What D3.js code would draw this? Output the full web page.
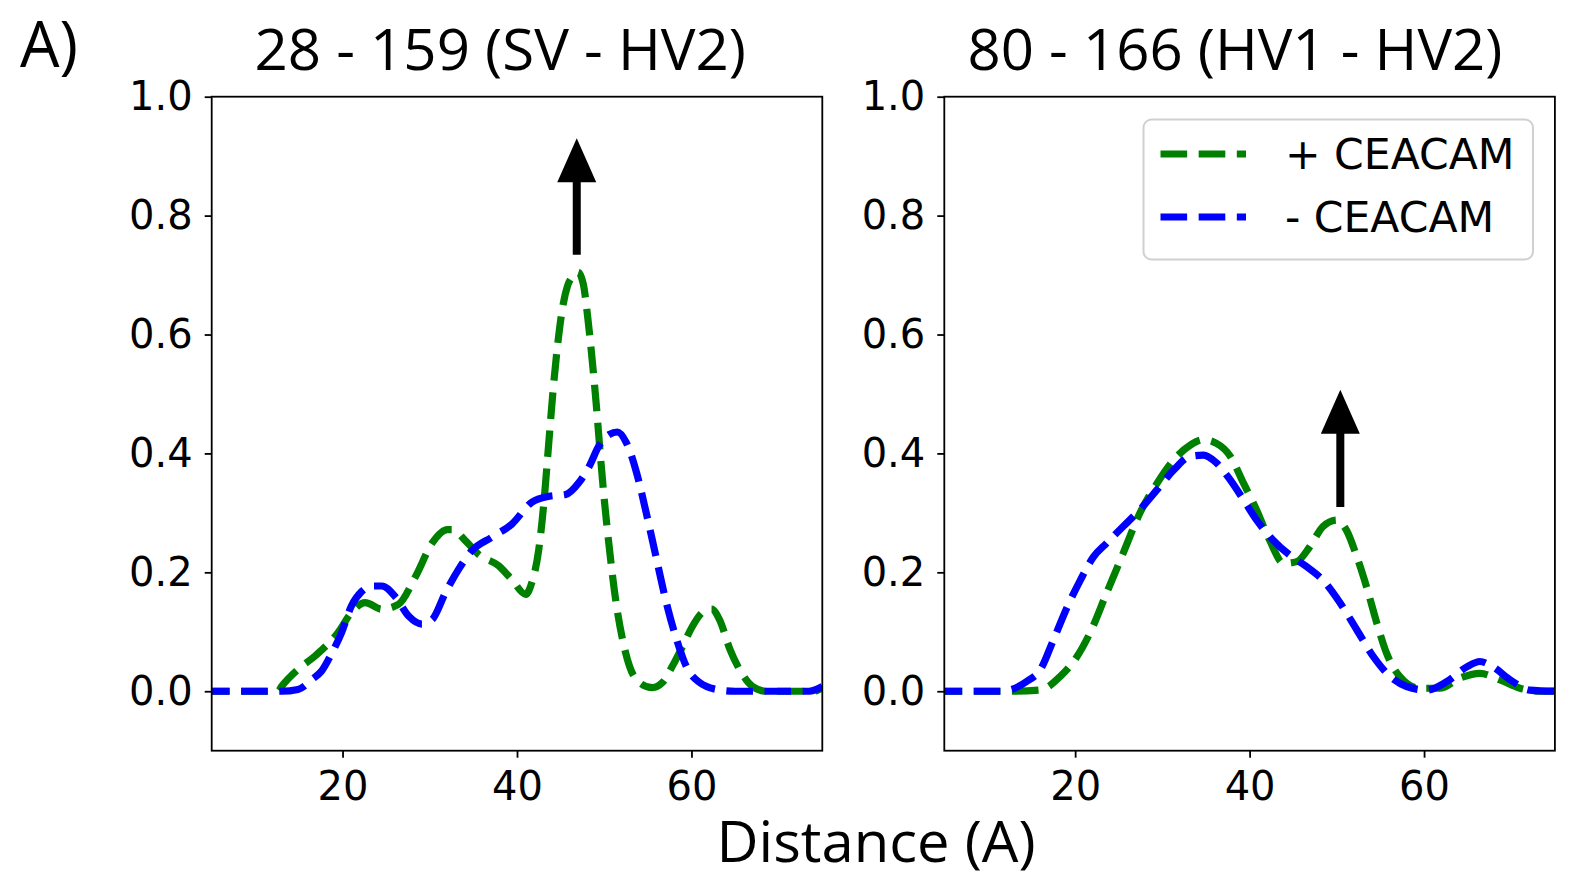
<!DOCTYPE html>
<html>
<head>
<meta charset="utf-8">
<script src="https://cdn.jsdelivr.net/npm/d3@7"></script>
<style>
  body { margin: 0; background: #fff; }
  svg { display: block; }
</style>
</head>
<body>
<script>
// distance distributions, [distance (A), density]
var leftPlus = [[4,0],[10,0],[12.6,0],[13,0.008],[14.9,0.037],[16.9,0.06],[19.5,0.099],[21,0.132],[22.6,0.149],
  [24.5,0.138],[26.4,0.146],[28.4,0.194],[30.3,0.25],[32,0.272],[32.6,0.272],[34.1,0.253],[35.6,0.23],[37.9,0.211],
  [39.4,0.188],[41,0.163],[41.7,0.183],[42.5,0.239],[43.1,0.32],[43.6,0.41],[44.1,0.5],[44.6,0.575],[45.2,0.643],
  [45.8,0.682],[46.4,0.698],[47.0,0.705],[47.6,0.685],[48.1,0.63],[48.6,0.56],[49.1,0.48],[49.5,0.407],[50,0.323],
  [50.6,0.239],[51.3,0.155],[52.1,0.087],[52.9,0.042],[54,0.015],[55.5,0.006],[56.7,0.015],[57.8,0.042],[59,0.076],
  [60.1,0.109],[61.3,0.133],[62.3,0.138],[63.2,0.121],[64.4,0.071],[65.5,0.037],[67,0.008],[68.6,0],[74,0],[75,0.006]];

var leftMinus = [[4,0],[13,0],[14.9,0.003],[16.5,0.02],[17.6,0.034],[18.7,0.062],[19.9,0.099],[21,0.143],[22.2,0.168],
  [23.3,0.177],[24.5,0.177],[26.1,0.158],[27.6,0.126],[29.1,0.113],[30.3,0.121],[31.8,0.166],[33.3,0.205],[34.8,0.236],
  [37.1,0.259],[39.4,0.281],[41.7,0.318],[43.7,0.328],[45.6,0.331],[47.1,0.351],[48.3,0.379],[49.4,0.413],[50.6,0.432],
  [51.5,0.436],[52.5,0.419],[53.7,0.368],[54.8,0.301],[56,0.222],[57.1,0.15],[58.3,0.087],[59.4,0.042],[60.9,0.015],
  [62.9,0.003],[65,0],[73.5,0],[75,0.008]];

var rightPlus = [[4,0],[13,0],[16,0.002],[18.3,0.025],[20.2,0.058],[21.7,0.098],[23.6,0.165],[25.5,0.232],[27.4,0.299],
  [29.4,0.35],[31.3,0.389],[33.2,0.414],[34.7,0.423],[36.2,0.417],[37.8,0.395],[39.3,0.35],[40.8,0.305],[42.3,0.254],
  [43.9,0.215],[45.4,0.218],[46.9,0.243],[48.4,0.277],[50,0.288],[51.1,0.271],[52.3,0.226],[53.4,0.176],[54.6,0.114],
  [55.7,0.064],[57.2,0.025],[59.5,0.005],[61.8,0.005],[64.1,0.022],[66.4,0.03],[68.7,0.019],[71,0.005],[73.4,0],[75,0]];

var rightMinus = [[4,0],[11.5,0],[12.7,0.003],[14.5,0.017],[16,0.036],[17.5,0.086],[19.1,0.142],[20.6,0.187],[22.1,0.226],
  [23.6,0.249],[25.5,0.277],[27.4,0.305],[29.4,0.339],[31.3,0.372],[33.2,0.395],[34.7,0.397],[36.2,0.384],[37.8,0.355],
  [39.3,0.322],[40.8,0.288],[42.7,0.254],[44.6,0.229],[46.5,0.21],[48.4,0.187],[50.4,0.148],[52.3,0.103],[54.2,0.058],
  [56.1,0.025],[58,0.008],[60.3,0.002],[62.6,0.016],[64.9,0.041],[66.4,0.05],[67.9,0.041],[69.9,0.019],[72.1,0.002],[75,0]];

var panelTitles = ["28 - 159 (SV - HV2)", "80 - 166 (HV1 - HV2)"];
var seriesNames = ["+ CEACAM", "- CEACAM"];
var seriesColors = ["#008000", "#0000ff"];
var xTicks = [20, 40, 60];
var yTicks = [0.0, 0.2, 0.4, 0.6, 0.8, 1.0];
// arrows: [x, y start, y tip]
var arrowLeft = [46.85, 0.734, 0.93];
var arrowRight = [50.4, 0.31, 0.507];

var width = 1577, height = 881;
var lw = 7.2;
var dash = (3.7 * lw) + "," + (1.6 * lw);

var svg = d3.select("body").append("svg")
  .attr("width", width)
  .attr("height", height);

var panels = [
  {left: 211.7, title: panelTitles[0], tx: 254.5, tlen: 491.5, series: [leftPlus, leftMinus], arrow: arrowLeft, legend: false},
  {left: 944.3, title: panelTitles[1], tx: 967.5, tlen: 535, series: [rightPlus, rightMinus], arrow: arrowRight, legend: true}
];
var pw = 610.6, plotTop = 96.7, plotBottom = 750.7;

panels.forEach(function(p, i) {
  var x = d3.scaleLinear().domain([5, 75]).range([p.left, p.left + pw]);
  var y = d3.scaleLinear().domain([-0.1, 1.0]).range([plotBottom, plotTop]);

  svg.append("clipPath").attr("id", "clip" + i)
    .append("rect").attr("x", p.left).attr("y", plotTop).attr("width", pw).attr("height", plotBottom - plotTop);

  var line = d3.line()
    .x(function(d) { return x(d[0]); })
    .y(function(d) { return y(d[1]); })
    .curve(d3.curveMonotoneX);

  var g = svg.append("g").attr("clip-path", "url(#clip" + i + ")");
  p.series.forEach(function(s, k) {
    g.append("path")
      .attr("d", line(s))
      .attr("fill", "none")
      .attr("stroke", seriesColors[k])
      .attr("stroke-width", lw)
      .attr("stroke-dasharray", dash);
  });

  // arrow
  var a = p.arrow, ax = x(a[0]), y0 = y(a[1]), tip = y(a[2]);
  var headLen = 44, headW = 19.5, shaftW = 4;
  svg.append("path")
    .attr("d", "M" + (ax - shaftW) + "," + y0 + "L" + (ax - shaftW) + "," + (tip + headLen) +
      "L" + (ax - headW) + "," + (tip + headLen) + "L" + ax + "," + tip +
      "L" + (ax + headW) + "," + (tip + headLen) + "L" + (ax + shaftW) + "," + (tip + headLen) +
      "L" + (ax + shaftW) + "," + y0 + "Z")
    .attr("fill", "#000");

  // frame
  svg.append("rect")
    .attr("x", p.left).attr("y", plotTop).attr("width", pw).attr("height", plotBottom - plotTop)
    .attr("fill", "none").attr("stroke", "#000").attr("stroke-width", 1.8);

  var xAxis = svg.append("g")
    .attr("transform", "translate(0," + plotBottom + ")")
    .call(d3.axisBottom(x).tickValues(xTicks).tickSize(7).tickPadding(14).tickFormat(d3.format("d")));
  var yAxis = svg.append("g")
    .attr("transform", "translate(" + p.left + ",0)")
    .call(d3.axisLeft(y).tickValues(yTicks).tickSize(7).tickPadding(12).tickFormat(d3.format(".1f")));
  [xAxis, yAxis].forEach(function(ax_) {
    ax_.select(".domain").remove();
    ax_.selectAll(".tick line").attr("stroke", "#000").attr("stroke-width", 1.8);
    ax_.selectAll(".tick text")
      .attr("font-family", "DejaVu Sans")
      .attr("font-size", 40)
      .attr("fill", "#000");
  });

  svg.append("text")
    .attr("x", p.tx).attr("y", 69.5)
    .attr("font-family", "Open Sans").attr("font-size", 57)
    .attr("textLength", p.tlen).attr("lengthAdjust", "spacingAndGlyphs")
    .text(p.title);

  if (p.legend) {
    var lg = svg.append("g");
    lg.append("rect")
      .attr("x", 1143.5).attr("y", 119.5).attr("width", 389.5).attr("height", 140)
      .attr("rx", 8).attr("fill", "#fff").attr("fill-opacity", 0.8)
      .attr("stroke", "#d0d0d0").attr("stroke-width", 2);
    seriesNames.forEach(function(n, k) {
      var ly = 154 + k * 63;
      lg.append("line")
        .attr("x1", 1160.5).attr("x2", 1246).attr("y1", ly).attr("y2", ly)
        .attr("stroke", seriesColors[k]).attr("stroke-width", lw)
        .attr("stroke-dasharray", dash);
      lg.append("text")
        .attr("x", 1285).attr("y", ly + 15)
        .attr("font-family", "DejaVu Sans").attr("font-size", 42.5)
        .text(n);
    });
  }
});

svg.append("text")
  .attr("x", 20).attr("y", 66.5)
  .attr("font-family", "Open Sans").attr("font-size", 64)
  .attr("textLength", 58).attr("lengthAdjust", "spacingAndGlyphs")
  .text("A)");

svg.append("text")
  .attr("x", 716.5).attr("y", 862)
  .attr("font-family", "Open Sans").attr("font-size", 56)
  .attr("textLength", 319).attr("lengthAdjust", "spacingAndGlyphs")
  .text("Distance (A)");
</script>
</body>
</html>
